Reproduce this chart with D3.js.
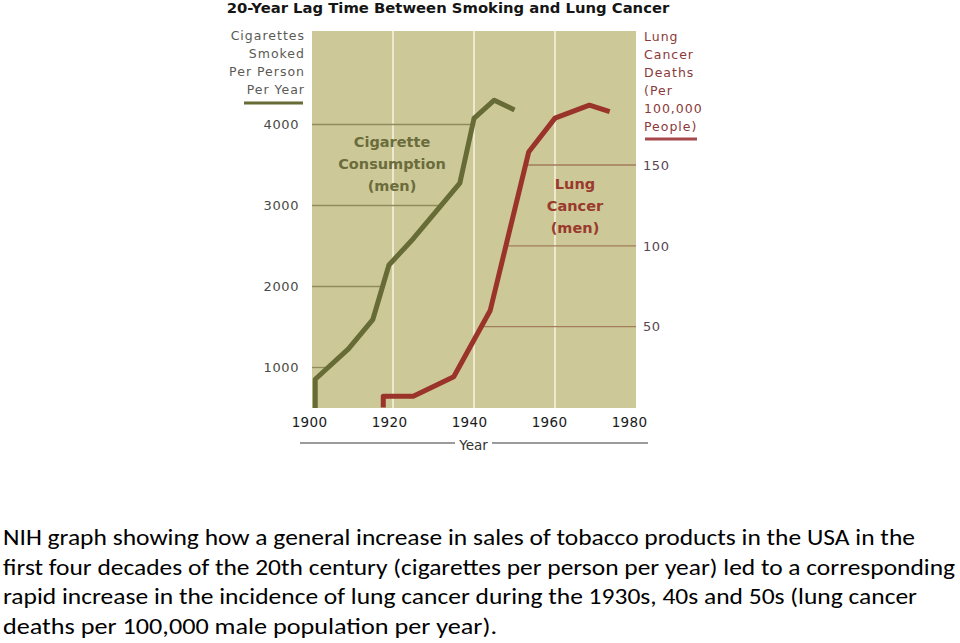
<!DOCTYPE html>
<html><head><meta charset="utf-8">
<script src="https://cdn.jsdelivr.net/npm/d3@7"></script>
<style>body{margin:0;background:#fff;overflow:hidden}</style></head>
<body><svg id="c" width="960" height="643"></svg>
<script>
// ---- data ----
const cigYears  = [1900.8, 1900.8, 1909, 1915, 1919, 1925, 1936.5, 1940, 1945, 1950];
const cigValues = [500, 855, 1230, 1590, 2265, 2590, 3275, 4075, 4300, 4180];
const lungYears  = [1917.6, 1917.6, 1925, 1935, 1944, 1953.5, 1960, 1968.5, 1973.5];
const lungValues = [0, 7, 7, 19, 60, 158, 179, 187, 183];
const xTicks = [1900, 1920, 1940, 1960, 1980];
const leftTicks = [1000, 2000, 3000, 4000];
const rightTicks = [50, 100, 150];
const titleText = "20-Year Lag Time Between Smoking and Lung Cancer";
const leftTitle = ["Cigarettes", "Smoked", "Per Person", "Per Year"];
const rightTitle = ["Lung", "Cancer", "Deaths", "(Per", "100,000", "People)"];
const cigLabel = ["Cigarette", "Consumption", "(men)"];
const lungLabel = ["Lung", "Cancer", "(men)"];
const captionLines = [
  "NIH graph showing how a general increase in sales of tobacco products in the USA in the",
  "first four decades of the 20th century (cigarettes per person per year) led to a corresponding",
  "rapid increase in the incidence of lung cancer during the 1930s, 40s and 50s (lung cancer",
  "deaths per 100,000 male population per year)."
];

// ---- layout ----
const P = {l: 312, r: 636, t: 31, b: 408};
const captionWidths = [912, 952, 914, 494];
const C = {bg: "#ccc898", green: "#676b35", red: "#9a3329", gridL: "#8f8b5c", gridR: "#a37d5c"};
const font = "'DejaVu Sans', Verdana, sans-serif";

const svg = d3.select("#c");
const x = d3.scaleLinear().domain([1900, 1980]).range([P.l, P.r]);
const xLab = d3.scaleLinear().domain([1900, 1980]).range([309, 629]);
const yL = d3.scaleLinear().domain([500, 4000]).range([P.b, 124.5]);
const yR = d3.scaleLinear().domain([0, 150]).range([407.5, 165]);

const cig = cigYears.map((y, i) => [y, cigValues[i]]);
const lung = lungYears.map((y, i) => [y, lungValues[i]]);

function crossYear(series, v) {
  for (let i = 0; i < series.length - 1; i++) {
    const [y0, v0] = series[i], [y1, v1] = series[i + 1];
    if (v0 <= v && v <= v1 && v1 > v0) return y0 + (y1 - y0) * (v - v0) / (v1 - v0);
  }
  return series[series.length - 1][0];
}

// background
svg.append("rect").attr("x", P.l).attr("y", P.t).attr("width", P.r - P.l).attr("height", P.b - P.t).attr("fill", C.bg);

// vertical white grid
svg.append("g").selectAll("line").data(xTicks.filter(d => d > 1900 && d < 1980)).join("line")
  .attr("x1", d => x(d)).attr("x2", d => x(d)).attr("y1", P.t).attr("y2", P.b)
  .attr("stroke", "#f6f2dc").attr("stroke-width", 1.6);

// left gridlines: from left edge to the cigarette line
svg.append("g").selectAll("line").data(leftTicks).join("line")
  .attr("x1", P.l).attr("x2", d => x(crossYear(cig, d)))
  .attr("y1", d => yL(d)).attr("y2", d => yL(d))
  .attr("stroke", C.gridL).attr("stroke-width", 1.3);

// right gridlines: from lung line to right edge
svg.append("g").selectAll("line").data(rightTicks).join("line")
  .attr("x1", d => x(crossYear(lung, d))).attr("x2", P.r)
  .attr("y1", d => yR(d)).attr("y2", d => yR(d))
  .attr("stroke", C.gridR).attr("stroke-width", 1.3);

// lines
svg.append("path").datum(cig)
  .attr("d", d3.line().x(d => x(d[0])).y(d => yL(d[1])))
  .attr("fill", "none").attr("stroke", C.green).attr("stroke-width", 5).attr("stroke-linejoin", "round");
svg.append("path").datum(lung)
  .attr("d", d3.line().x(d => x(d[0])).y(d => yR(d[1])))
  .attr("fill", "none").attr("stroke", C.red).attr("stroke-width", 5).attr("stroke-linejoin", "round");

// axes
function styleAxis(g, color, size, ls) {
  g.select(".domain").remove();
  g.selectAll("line").remove();
  g.selectAll("text").attr("font-family", font).attr("font-size", size)
    .attr("letter-spacing", ls).attr("fill", color);
}
svg.append("g").attr("transform", "translate(299,0)")
  .call(d3.axisLeft(yL).tickValues(leftTicks).tickSize(0).tickPadding(0).tickFormat(d3.format("d")))
  .call(g => styleAxis(g, "#4a4a44", 13, 0.6));
svg.append("g").attr("transform", "translate(643,0)")
  .call(d3.axisRight(yR).tickValues(rightTicks).tickSize(0).tickPadding(0).tickFormat(d3.format("d")))
  .call(g => styleAxis(g, "#5a4652", 13, 0.6));
svg.append("g").attr("transform", "translate(0,417)")
  .call(d3.axisBottom(xLab).tickValues(xTicks).tickSize(0).tickPadding(0).tickFormat(d3.format("d")))
  .call(g => styleAxis(g, "#1a1a1a", 13.5, 0.3));

// title
svg.append("text").attr("x", 448).attr("y", 13).attr("text-anchor", "middle")
  .attr("font-family", font).attr("font-weight", "bold").attr("font-size", 14.8)
  .attr("fill", "#151515").text(titleText);

// left axis title
svg.append("g").selectAll("text").data(leftTitle).join("text")
  .attr("x", 305).attr("y", (d, i) => 40 + i * 18).attr("text-anchor", "end")
  .attr("font-family", font).attr("font-size", 12.5).attr("letter-spacing", 1)
  .attr("fill", "#5a5a55").text(d => d);
svg.append("line").attr("x1", 244).attr("x2", 303).attr("y1", 103).attr("y2", 103)
  .attr("stroke", C.green).attr("stroke-width", 3);

// right axis title
svg.append("g").selectAll("text").data(rightTitle).join("text")
  .attr("x", 644).attr("y", (d, i) => 41 + i * 18)
  .attr("font-family", font).attr("font-size", 12.5).attr("letter-spacing", 1)
  .attr("fill", "#8a3a3a").text(d => d);
svg.append("line").attr("x1", 645).attr("x2", 697).attr("y1", 139).attr("y2", 139)
  .attr("stroke", "#a4484c").attr("stroke-width", 3);

// series labels
svg.append("g").selectAll("text").data(cigLabel).join("text")
  .attr("x", 392).attr("y", (d, i) => 147 + i * 22).attr("text-anchor", "middle")
  .attr("font-family", font).attr("font-weight", "bold").attr("font-size", 14.5)
  .attr("fill", "#6b6c3c").text(d => d);
svg.append("g").selectAll("text").data(lungLabel).join("text")
  .attr("x", 575).attr("y", (d, i) => 189 + i * 22).attr("text-anchor", "middle")
  .attr("font-family", font).attr("font-weight", "bold").attr("font-size", 14.5)
  .attr("fill", "#9a3a2c").text(d => d);

// x axis title with rule
svg.append("line").attr("x1", 300).attr("x2", 455).attr("y1", 443).attr("y2", 443).attr("stroke", "#7a7a7a").attr("stroke-width", 1.5);
svg.append("line").attr("x1", 492).attr("x2", 648).attr("y1", 443).attr("y2", 443).attr("stroke", "#7a7a7a").attr("stroke-width", 1.5);
svg.append("text").attr("x", 473.5).attr("y", 450).attr("text-anchor", "middle")
  .attr("font-family", font).attr("font-size", 13.5).attr("fill", "#333").text("Year");

// caption
svg.append("g").selectAll("text").data(captionLines).join("text")
  .attr("x", 3).attr("y", (d, i) => 545 + i * 29.5)
  .attr("font-family", "Carlito, Calibri, Lato, 'Open Sans', sans-serif").attr("font-size", 22.5)
  .attr("fill", "#000")
  .attr("textLength", (d, i) => captionWidths[i]).attr("lengthAdjust", "spacingAndGlyphs")
  .text(d => d);
</script></body></html>
